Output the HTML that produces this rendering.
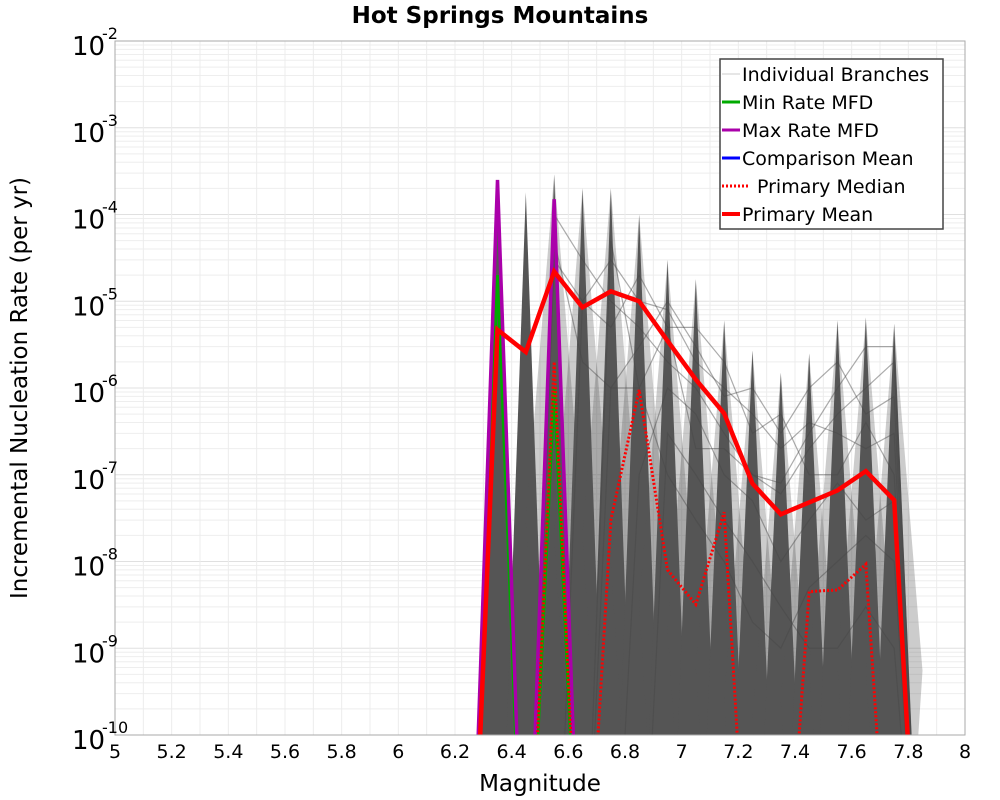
<!DOCTYPE html>
<html><head><meta charset="utf-8"><style>
html,body{margin:0;background:#fff;overflow:hidden;width:1000px;height:800px;}
svg{display:block;font-family:"DejaVu Sans","Liberation Sans",sans-serif;}
</style></head><body>
<svg id="chart" width="1000" height="800" xmlns="http://www.w3.org/2000/svg">
<text x="500" y="23" text-anchor="middle" font-size="23" font-weight="bold">Hot Springs Mountains</text>
<g id="grid"></g>
<defs><clipPath id="clip"><rect x="115" y="41" width="850" height="694"/></clipPath></defs>
<g id="plot" clip-path="url(#clip)"></g>
<rect x="115" y="41" width="850" height="694" fill="none" stroke="#aaa"/>
<g id="yticks"></g>
<g id="xticks"></g>
<text x="540" y="791" text-anchor="middle" font-size="23">Magnitude</text>
<text transform="translate(27,388) rotate(-90)" text-anchor="middle" font-size="23">Incremental Nucleation Rate (per yr)</text>
<g>
<rect x="720" y="59" width="223" height="170" fill="#fff" stroke="#444" stroke-width="1.5"/>
<g><line x1="722" y1="74" x2="740" y2="74" stroke="#ccc" stroke-width="1"/><text x="742" y="81" font-size="19">Individual Branches</text></g>
<g><line x1="722" y1="102" x2="740" y2="102" stroke="#00aa00" stroke-width="3"/><text x="742" y="109" font-size="19">Min Rate MFD</text></g>
<g><line x1="722" y1="130" x2="740" y2="130" stroke="#aa00aa" stroke-width="3"/><text x="742" y="137" font-size="19">Max Rate MFD</text></g>
<g><line x1="722" y1="158" x2="740" y2="158" stroke="#0000ff" stroke-width="3"/><text x="742" y="165" font-size="19">Comparison Mean</text></g>
<g><line x1="722" y1="186" x2="750" y2="186" stroke="#ff0000" stroke-width="3" stroke-dasharray="2,2"/><text x="757" y="193" font-size="19">Primary Median</text></g>
<g><line x1="722" y1="214" x2="740" y2="214" stroke="#ff0000" stroke-width="4"/><text x="742" y="221" font-size="19">Primary Mean</text></g>
</g>
</svg>
<script>
const mags = [6.25,6.35,6.45,6.55,6.65,6.75,6.85,6.95,7.05,7.15,7.25,7.35,7.45,7.55,7.65,7.75,7.85];
const primaryMean = [0,4.7e-6,2.6e-6,2.2e-5,8.5e-6,1.3e-5,1e-5,3.5e-6,1.25e-6,5.1e-7,7.9e-8,3.5e-8,4.8e-8,6.6e-8,1.1e-7,5.1e-8,0];
const primaryMedian = [0,0,0,2e-6,0,3e-8,9.5e-7,8e-9,3.2e-9,3.7e-8,0,0,4.5e-9,4.7e-9,9.3e-9,0,0];
const maxRate = [0,2.5e-4,0,1.5e-4,0,0,0,0,0,0,0,0,0,0,0,0,0];
const minRate = [0,2e-5,0,1e-6,0,0,0,0,0,0,0,0,0,0,0,0,0];
const spikePeak = [0,2.5e-4,1.8e-4,2.9e-4,2e-4,2e-4,1e-4,3e-5,1.8e-5,6e-6,2.7e-6,1.5e-6,2.5e-6,6e-6,6.5e-6,5.5e-6,0];
const haloShow = [0,0,0,1,1,1,1,1,1,1,1,1,1,1,1,1,0];
const branchA = [0,0,0,1e-4,3e-5,1e-5,5e-6,2e-6,1e-6,3e-7,1e-7,6e-8,2e-7,5e-7,1e-6,2e-6,0];
const branchB = [0,0,0,3e-5,1e-5,3e-5,1e-5,8e-6,2e-6,1e-6,5e-7,2e-7,4e-7,3e-7,2e-7,3e-7,0];
const branchC = [0,0,0,0,1e-5,5e-6,2e-5,5e-6,5e-6,2e-6,3e-7,5e-7,1e-7,1e-7,4e-7,1e-7,0];
const branchD = [0,0,0,0,0,1e-6,3e-6,1e-5,3e-6,8e-7,1e-6,3e-7,1e-6,2e-6,5e-7,8e-7,0];
const branchE = [0,0,0,0,0,0,1e-7,1e-6,5e-7,1e-7,5e-8,1e-8,3e-8,8e-8,3e-8,5e-8,0];
const branchF = [0,0,0,5e-5,2e-6,1e-6,1e-6,1e-7,3e-8,1e-8,2e-9,1e-9,5e-9,1e-8,2e-8,1e-8,0];
const branchG = [0,0,0,0,0,0,0,3e-7,1e-7,3e-8,1e-8,3e-9,1e-9,1e-9,3e-9,1e-9,0];
const branchH = [0,0,0,0,0,5e-5,1e-6,5e-6,2e-7,2e-7,1e-7,8e-8,3e-7,1e-6,3e-6,3e-6,0];
const xTicks = [5,5.2,5.4,5.6,5.8,6,6.2,6.4,6.6,6.8,7,7.2,7.4,7.6,7.8,8];
const yExps = [-2,-3,-4,-5,-6,-7,-8,-9,-10];

const NS='http://www.w3.org/2000/svg';
const X0=115,X1=965,Y0=41,Y1=735;
function xs(m){return X0+(m-5)/3*(X1-X0);}
function ys(v){const l=v>0?Math.log10(v):-13;return Y0+(-2-l)*(Y1-Y0)/8;}
function mk(tag,attrs,parent){const e=document.createElementNS(NS,tag);for(const k in attrs)e.setAttribute(k,attrs[k]);parent.appendChild(e);return e;}
const grid=document.getElementById('grid'),plot=document.getElementById('plot');
for(let e=-10;e<-2;e++){for(let k=1;k<10;k++){const y=ys(k*Math.pow(10,e));
 const l=mk('line',{x1:X0,x2:X1,y1:y,y2:y,stroke:k==1?'#e0e0e0':'#eeeeee','stroke-width':1},grid);
 }}
for(let m=5.1;m<8;m+=0.1){const x=xs(m);const l=mk('line',{x1:x,x2:x,y1:Y0,y2:Y1,stroke:'#ececec'},grid);
 }
function pts(arr){return arr.map((v,i)=>xs(mags[i])+','+ys(v)).join(' ');}
spikePeak.forEach((v,i)=>{if(!v)return;const m=mags[i];
 if(haloShow[i]){
 const q=mk('polygon',{points:xs(m-0.1)+','+ys(v*1e-4)+' '+xs(m)+','+ys(v)+' '+xs(m+0.1)+','+ys(v*1e-4)+' '+xs(m)+','+ys(v*1e-9),fill:'rgba(85,85,85,0.3)'},plot);
 }
 const p=mk('polygon',{points:xs(m-0.1)+','+ys(0)+' '+xs(m)+','+ys(v)+' '+xs(m+0.1)+','+ys(0),fill:'#555'},plot);
 });
[branchA,branchB,branchC,branchD,branchE,branchF,branchG,branchH].forEach(b=>{
 const l=mk('polyline',{points:pts(b),fill:'none',stroke:'rgba(70,70,70,0.45)','stroke-width':1.2},plot);
 });
const mn=mk('polyline',{points:pts(minRate),fill:'none',stroke:'#00aa00','stroke-width':3},plot);

const mx=mk('polyline',{points:pts(maxRate),fill:'none',stroke:'#aa00aa','stroke-width':3.5},plot);

const md=mk('polyline',{points:pts(primaryMedian),fill:'none',stroke:'#ff0000','stroke-width':3,'stroke-dasharray':'2,2'},plot);

const me=mk('polyline',{points:pts(primaryMean),fill:'none',stroke:'#ff0000','stroke-width':4.5,'stroke-linejoin':'miter'},plot);

const yt=document.getElementById('yticks');
yExps.forEach(e=>{const y=ys(Math.pow(10,e));
 const t=mk('text',{x:72,y:y+14,'font-size':26},yt);t.textContent='10';
 
 const s=mk('text',{x:102,y:y-2,'font-size':16},yt);s.textContent=String(e);
 });
const xt=document.getElementById('xticks');
xTicks.forEach(m=>{const t=mk('text',{x:xs(m),y:758,'font-size':19,'text-anchor':'middle'},xt);t.textContent=String(m);
 });
</script>
</body></html>
